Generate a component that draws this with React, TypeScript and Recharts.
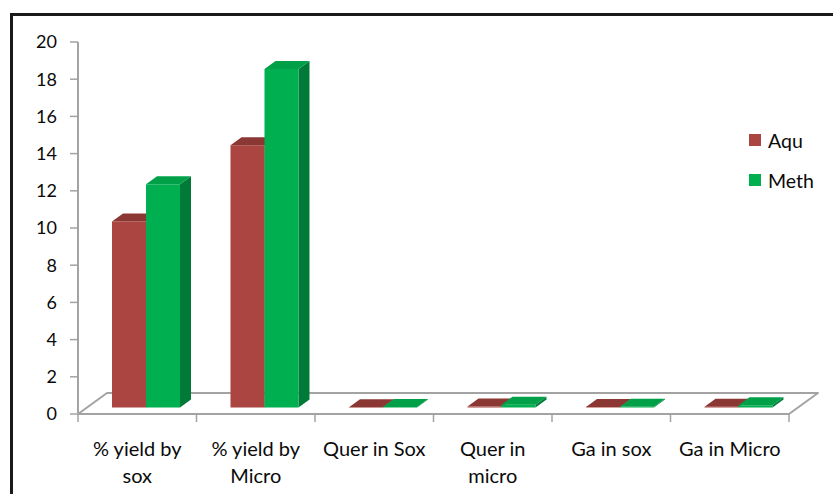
import React from 'react'
import { BarChart, Bar, XAxis, YAxis, Legend, usePlotArea } from 'recharts'

// category labels, already split into the lines they wrap to
const tickLabels: string[][] = [
  ['% yield by', 'sox'],
  ['% yield by', 'Micro'],
  ['Quer in Sox'],
  ['Quer in', 'micro'],
  ['Ga in sox'],
  ['Ga in Micro'],
]
const categories = tickLabels.map(l => l.join(' '))

const aqu = [10.0, 14.1, 0.02, 0.05, 0.03, 0.04]
const meth = [12.0, 18.2, 0.03, 0.15, 0.04, 0.12]

const yTicks = [0, 2, 4, 6, 8, 10, 12, 14, 16, 18, 20]

const data = categories.map((name, i) => ({ name, aqu: aqu[i], meth: meth[i] }))

const FONT = 'Lato, "Open Sans", sans-serif'
const TEXT = '#0a0a0a'
const AXIS_GREY = '#a3a3a3'

// floor depth and bar depth (x to the right, y upwards)
const FLOOR_DX = 29
const FLOOR_DY = 21
const BAR_DX = 11
const BAR_DY = 8
// bars stand in the middle of the floor depth
const SHIFT_X = (FLOOR_DX - BAR_DX) / 2
const SHIFT_Y = (FLOOR_DY - BAR_DY) / 2

type Faces = { front: string; top: string; side: string }

const COLORS: Record<'aqu' | 'meth', Faces> = {
  aqu: { front: '#aa4541', top: '#8b3734', side: '#7a2f2c' },
  meth: { front: '#00b050', top: '#00a049', side: '#007a36' },
}

function Bar3D(props: any) {
  const { x, y, width, height, faces } = props
  const fx = x + SHIFT_X
  const fy = y - SHIFT_Y
  const h = Math.max(height, 0)
  const w = width
  const top = [
    [fx, fy],
    [fx + BAR_DX, fy - BAR_DY],
    [fx + w + BAR_DX, fy - BAR_DY],
    [fx + w, fy],
  ]
  const side = [
    [fx + w, fy],
    [fx + w + BAR_DX, fy - BAR_DY],
    [fx + w + BAR_DX, fy + h - BAR_DY],
    [fx + w, fy + h],
  ]
  const pts = (p: number[][]) => p.map(q => q.join(',')).join(' ')
  return (
    <g>
      <polygon points={pts(side)} fill={faces.side} />
      <rect x={fx} y={fy} width={w} height={h} fill={faces.front} />
      <polygon points={pts(top)} fill={faces.top} />
    </g>
  )
}

// 3D floor with the category tick marks along its front edge
function Floor({ count }: { count: number }) {
  const area = usePlotArea()
  if (!area) return null
  const { x, y, width, height } = area
  const bottom = y + height
  const right = x + width
  const step = width / count
  const pts = [
    [x, bottom],
    [right, bottom],
    [right + FLOOR_DX, bottom - FLOOR_DY],
    [x + FLOOR_DX, bottom - FLOOR_DY],
  ]
    .map(p => p.join(','))
    .join(' ')
  return (
    <g>
      <polygon points={pts} fill="#fff" stroke={AXIS_GREY} strokeWidth={2} strokeLinejoin="round" />
      {Array.from({ length: count + 1 }, (_, i) => (
        <line
          key={i}
          x1={x + i * step}
          x2={x + i * step}
          y1={bottom}
          y2={bottom + 8}
          stroke={AXIS_GREY}
          strokeWidth={1.5}
        />
      ))}
    </g>
  )
}

function CategoryTick({ x, y, payload }: any) {
  const lines = tickLabels[payload.index] || [payload.value]
  return (
    <g transform={`translate(${x},${y})`}>
      {lines.map((line, i) => (
        <text
          key={i}
          x={0}
          y={42 + i * 27}
          textAnchor="middle"
          fill={TEXT}
          fontSize={20}
          fontFamily={FONT}
        >
          {line}
        </text>
      ))}
    </g>
  )
}

function LegendBox({ payload }: any) {
  return (
    <div style={{ fontFamily: FONT, fontSize: 19.5, color: TEXT }}>
      {(payload || []).map((entry: any) => (
        <div key={entry.value} style={{ display: 'flex', alignItems: 'center', height: 40 }}>
          <span
            style={{
              display: 'inline-block',
              width: 12,
              height: 12,
              background: entry.color,
              marginRight: 7,
            }}
          />
          <span>{entry.value}</span>
        </div>
      ))}
    </div>
  )
}

export default function App() {
  return (
    <div style={{ position: 'relative', width: 833, height: 494, overflow: 'hidden', background: '#fff' }}>
      <style>{'body{margin:0}'}</style>
      <div
        style={{
          position: 'absolute',
          left: 10,
          top: 13,
          width: 900,
          height: 600,
          border: '3px solid #1a1a1a',
          boxSizing: 'border-box',
        }}
      />
      <BarChart
        width={833}
        height={494}
        data={data}
        margin={{ top: 42, right: 44, bottom: 0, left: 0 }}
        barSize={34}
        barGap={0}
        style={{ fontFamily: FONT }}
      >
        <Floor count={categories.length} />
        <XAxis
          dataKey="name"
          height={80}
          axisLine={false}
          tickLine={false}
          tickSize={0}
          tickMargin={0}
          interval={0}
          tick={<CategoryTick />}
        />
        <YAxis
          width={78}
          domain={[0, 20]}
          ticks={yTicks}
          interval={0}
          tickSize={8}
          tickMargin={13}
          axisLine={{ stroke: AXIS_GREY, strokeWidth: 2 }}
          tickLine={{ stroke: AXIS_GREY, strokeWidth: 1.5 }}
          tick={{ fill: TEXT, fontSize: 18, fontFamily: FONT }}
        />
        <Legend
          layout="horizontal"
          verticalAlign="middle"
          content={<LegendBox />}
          wrapperStyle={{ position: 'absolute', left: 749, top: 120, width: 80 }}
        />
        <Bar
          dataKey="aqu"
          name="Aqu"
          fill={COLORS.aqu.front}
          isAnimationActive={false}
          shape={(p: any) => <Bar3D {...p} faces={COLORS.aqu} />}
        />
        <Bar
          dataKey="meth"
          name="Meth"
          fill={COLORS.meth.front}
          isAnimationActive={false}
          shape={(p: any) => <Bar3D {...p} faces={COLORS.meth} />}
        />
      </BarChart>
    </div>
  )
}
